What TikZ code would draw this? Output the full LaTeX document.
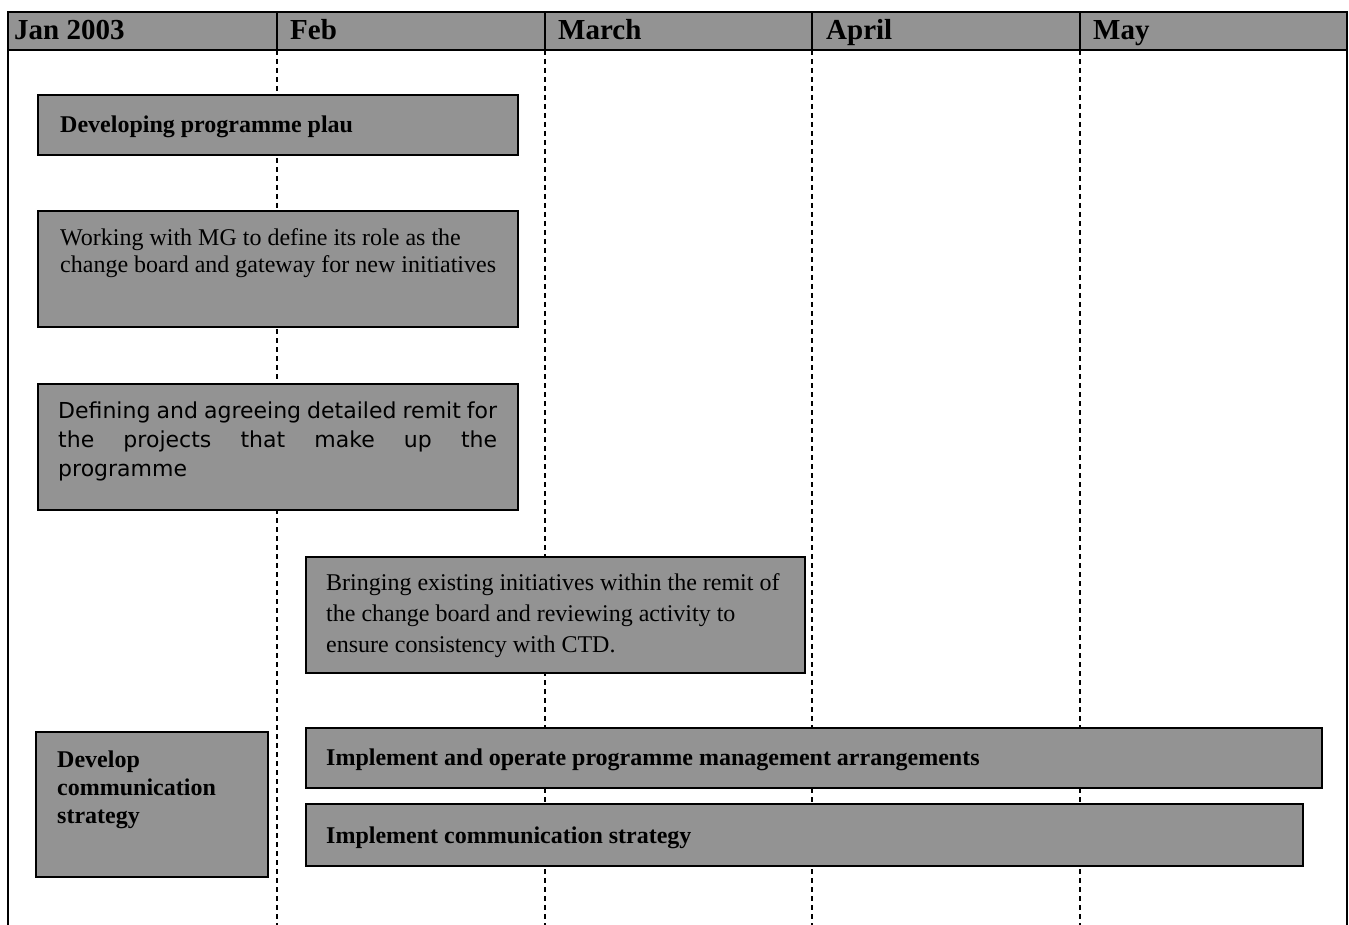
\documentclass[tikz,border=0pt]{standalone}
\usepackage{fontspec}
\setmainfont{Liberation Serif}
\newfontfamily\boxsans{DejaVu Sans}
\definecolor{barfill}{HTML}{939393}
\begin{document}
\begin{tikzpicture}[x=1pt,y=-1pt,
  bar/.style={draw=black, line width=1.8pt, fill=barfill, anchor=north west, inner sep=0pt, outer sep=0pt},
  dashline/.style={line width=1.4pt, dash pattern=on 5pt off 4pt},
  edge/.style={line width=1.2pt},
  month/.style={anchor=base west, inner sep=0pt, font=\fontsize{29}{32}\selectfont\bfseries},
  boldlbl/.style={anchor=base west, inner sep=0pt, font=\fontsize{24}{28}\selectfont\bfseries},
  plainlbl/.style={anchor=north west, inner sep=0pt, align=left}]
\useasboundingbox (0,0) rectangle (1349,925);
% header
\node[bar, line width=1.4pt, minimum width=1339pt, minimum height=38pt] (hdr) at (8,12) {};
\foreach \x/\n in {277/a,545/b,812/c,1080/d} {
  \coordinate (top\n) at (\x,12);
  \coordinate (bot\n) at (\x,925);
  \draw[line width=1.2pt] (top\n) -- (\x,50);
  \draw[dashline] (\x,50) -- (bot\n);
}
\coordinate (lt) at (8,50); \coordinate (lb) at (8,925);
\coordinate (rt) at (1347,50); \coordinate (rb) at (1347,925);
\draw[edge] (lt) -- (lb);
\draw[edge] (rt) -- (rb);
\node[month] (m1) at (14,40) {Jan 2003};
\node[month] (m2) at (290,40) {Feb};
\node[month] (m3) at (558,40) {March};
\node[month] (m4) at (826,40) {April};
\node[month] (m5) at (1093,40) {May};
% boxes
\node[bar, minimum width=480pt, minimum height=60pt] (b1) at (38,95) {};
\node[boldlbl] (t1) at (60,133) {Developing programme plau};
\node[bar, minimum width=480pt, minimum height=116pt] (b2) at (38,211) {};
\node[plainlbl, font=\fontsize{24}{27}\selectfont] (t2) at (60,228) {Working with MG to define its role as the\\change board and gateway for new initiatives};
\node[bar, minimum width=480pt, minimum height=126pt] (b3) at (38,384) {};
\node[plainlbl, text width=439pt, align=justify, font=\boxsans\fontsize{22}{29}\selectfont] (t3) at (58,402) {Defining and agreeing detailed remit for\linebreak the projects that make up the\linebreak programme};
\node[bar, minimum width=499pt, minimum height=116pt] (b4) at (306,557) {};
\node[plainlbl, font=\fontsize{24}{31}\selectfont] (t4) at (326,573) {Bringing existing initiatives within the remit of\\the change board and reviewing activity to\\ensure consistency with CTD.};
\node[bar, minimum width=232pt, minimum height=145pt] (b5) at (36,732) {};
\node[plainlbl, font=\fontsize{24}{28}\selectfont\bfseries] (t5) at (57,751) {Develop\\communication\\strategy};
\node[bar, minimum width=1016pt, minimum height=60pt] (b6) at (306,728) {};
\node[boldlbl] (t6) at (326,765) {Implement and operate programme management arrangements};
\node[bar, minimum width=997pt, minimum height=62pt] (b7) at (306,804) {};
\node[boldlbl] (t7) at (326,843) {Implement communication strategy};
\end{tikzpicture}
\end{document}
